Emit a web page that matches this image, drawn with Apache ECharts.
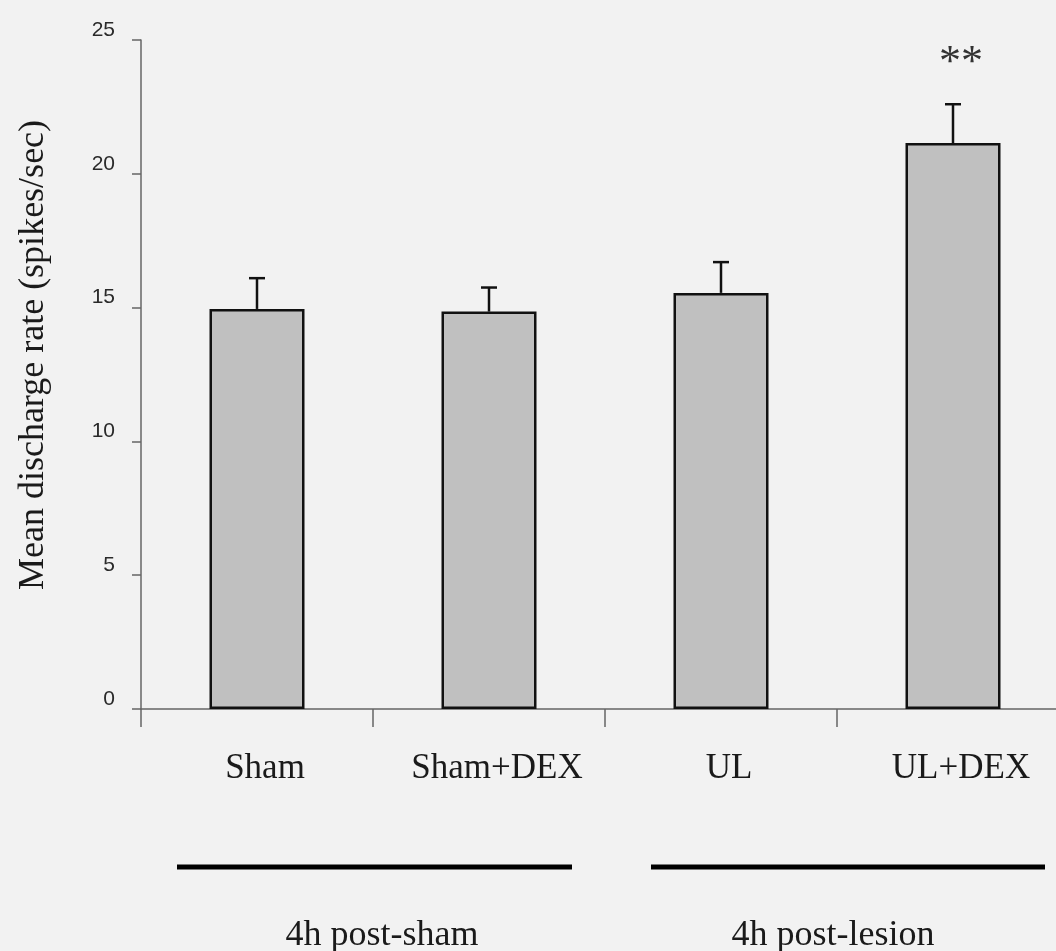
<!DOCTYPE html>
<html>
<head>
<meta charset="utf-8">
<script src="https://cdn.jsdelivr.net/npm/echarts@6/dist/echarts.min.js"></script>
<style>
html,body{margin:0;padding:0;background:#f2f2f2;overflow:hidden;}
#chart{width:1069px;height:951px;}
</style>
</head>
<body>
<div id="chart"></div>
<script>
const categories = ['Sham', 'Sham+DEX', 'UL', 'UL+DEX'];
const meanRates = [14.95, 14.85, 15.55, 21.15];
const errorTops = [16.1, 15.75, 16.7, 22.6];
const significance = ['', '', '', '**'];
const yTicks = [0, 5, 10, 15, 20, 25];
const groups = ['4h post-sham', '4h post-lesion'];
const yAxisTitle = 'Mean discharge rate (spikes/sec)';

const chart = echarts.init(document.getElementById('chart'));
const serif = '"Liberation Serif", "DejaVu Serif", serif';

const errData = categories.map((c, i) => [i, meanRates[i], errorTops[i]]);

chart.setOption({
  backgroundColor: '#f2f2f2',
  animation: false,
  grid: { left: 141, right: 0, top: 40, bottom: 242 },
  xAxis: {
    type: 'category',
    data: categories,
    axisLine: { lineStyle: { color: '#666', width: 1.5 } },
    axisTick: { show: true, length: 18, lineStyle: { color: '#666', width: 1.5 } },
    axisLabel: { fontFamily: serif, fontSize: 35, color: '#1a1a1a', margin: 42, padding: [0, 0, 0, 16] }
  },
  yAxis: {
    type: 'value',
    min: yTicks[0],
    max: yTicks[yTicks.length - 1],
    interval: 5,
    axisLine: { show: true, lineStyle: { color: '#666', width: 1.5 } },
    axisTick: { show: true, length: 9, lineStyle: { color: '#666', width: 1.5 } },
    axisLabel: { fontFamily: '"Liberation Sans", Arial, sans-serif', fontSize: 21, color: '#2a2a2a', margin: 26, verticalAlign: 'bottom', lineHeight: 20 },
    splitLine: { show: false }
  },
  series: [
    {
      type: 'bar',
      data: meanRates,
      barWidth: 95,
      itemStyle: { color: '#c0c0c0', borderColor: '#111', borderWidth: 2.5 },
      z: 2
    },
    {
      type: 'custom',
      data: errData,
      z: 3,
      renderItem: function (params, api) {
        const x = api.coord([api.value(0), api.value(1)]);
        const top = api.coord([api.value(0), api.value(2)]);
        const children = [
          { type: 'line', shape: { x1: x[0], y1: x[1], x2: top[0], y2: top[1] }, style: { stroke: '#111', lineWidth: 2.5 } },
          { type: 'line', shape: { x1: top[0] - 8, y1: top[1], x2: top[0] + 8, y2: top[1] }, style: { stroke: '#111', lineWidth: 2.5 } }
        ];
        const sig = significance[params.dataIndex];
        if (sig) {
          children.push({
            type: 'text',
            style: { text: sig, x: top[0] + 8, y: top[1] - 41, align: 'center', verticalAlign: 'middle',
              font: '44px ' + serif, fill: '#333' }
          });
        }
        return { type: 'group', children: children };
      }
    }
  ],
  graphic: [
    { type: 'text', x: 34, y: 355, rotation: Math.PI / 2,
      style: { text: yAxisTitle, align: 'center', verticalAlign: 'middle', font: '36px ' + serif, fill: '#1a1a1a' } },
    { type: 'line', shape: { x1: 177, y1: 867, x2: 572, y2: 867 }, style: { stroke: '#000', lineWidth: 5 } },
    { type: 'line', shape: { x1: 651, y1: 867, x2: 1045, y2: 867 }, style: { stroke: '#000', lineWidth: 5 } },
    { type: 'text', x: 382, y: 936, style: { text: groups[0], align: 'center', verticalAlign: 'middle', font: '36px ' + serif, fill: '#1a1a1a' } },
    { type: 'text', x: 833, y: 936, style: { text: groups[1], align: 'center', verticalAlign: 'middle', font: '36px ' + serif, fill: '#1a1a1a' } }
  ]
});
</script>
</body>
</html>
